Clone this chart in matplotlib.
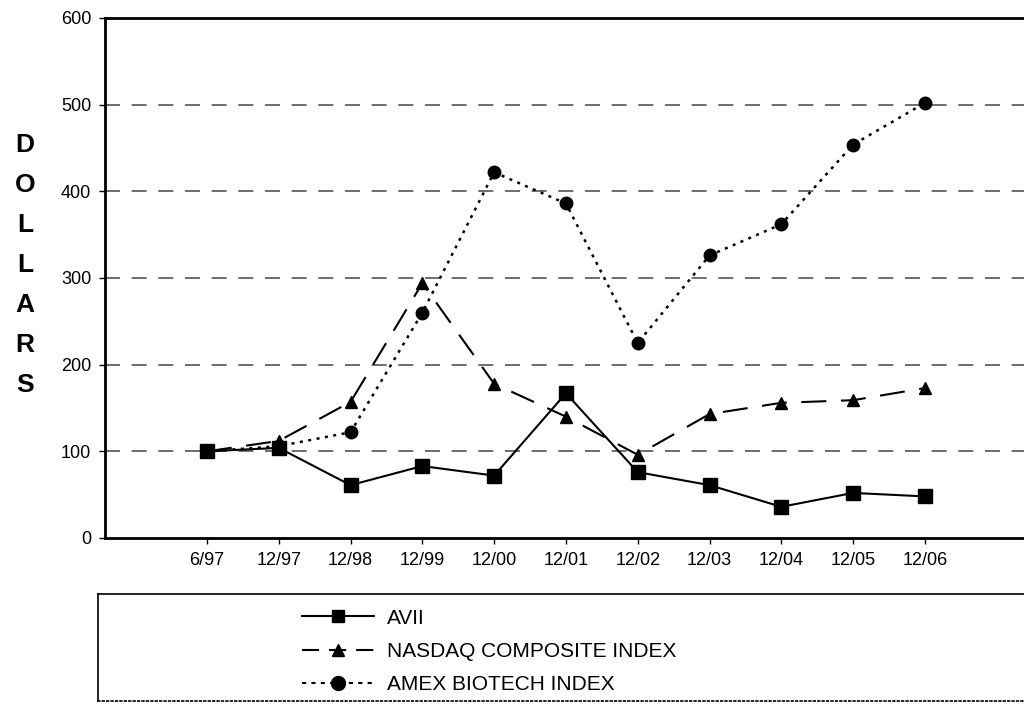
import matplotlib
matplotlib.use("Agg")
import matplotlib.pyplot as plt
from matplotlib.lines import Line2D

plt.rcParams["font.family"] = ["Liberation Sans", "DejaVu Sans"]

periods = ["6/97", "12/97", "12/98", "12/99", "12/00", "12/01",
           "12/02", "12/03", "12/04", "12/05", "12/06"]
avii = [100, 104, 61, 83, 72, 167, 76, 61, 36, 52, 48]
nasdaq = [100, 112, 157, 294, 178, 140, 96, 143, 156, 159, 173]
amex = [100, 106, 122, 260, 422, 386, 225, 326, 362, 454, 502]
yticks = [0, 100, 200, 300, 400, 500, 600]

fig = plt.figure(figsize=(10.24, 7.04), dpi=100)
ax = fig.add_axes([105 / 1024, 1 - 538 / 704, 1 - 105 / 1024, 520 / 704])

x = list(range(len(periods)))

for y in yticks[1:-1]:
    ax.axhline(y, color="#555555", lw=1.2, dashes=(9, 7), zorder=1)

ax.plot(x, avii, color="black", lw=1.5, marker="s", ms=10, zorder=3)
ax.plot(x, nasdaq, color="black", lw=1.5, dashes=(12, 7), marker="^", ms=9, zorder=3)
ax.plot(x, amex, color="black", lw=1.8, dashes=(1.2, 2.2), marker="o", ms=9, zorder=3)

ax.set_xlim(-1.42, 11.38)
ax.set_ylim(0, 600)
ax.set_xticks(x)
ax.set_xticklabels(periods, fontsize=13)
ax.set_yticks(yticks)
ax.set_yticklabels([str(v) for v in yticks], fontsize=13)
ax.tick_params(axis="both", direction="out", length=4, width=1, pad=6)
ax.spines["right"].set_visible(False)
for s in ["left", "top", "bottom"]:
    ax.spines[s].set_linewidth(2)

# vertical stacked axis label
for i, ch in enumerate("DOLLARS"):
    fig.text(25 / 1024, 1 - (145 + i * 40) / 704, ch, fontsize=19,
             fontweight="bold", ha="center", va="center")

# legend box below the plot
lax = fig.add_axes([98 / 1024, 0.004, 1 - 98 / 1024, (704 - 597) / 704])
lax.set_xticks([])
lax.set_yticks([])
lax.spines["right"].set_visible(False)
for s in ["left", "top", "bottom"]:
    lax.spines[s].set_linewidth(1.2)
lax.spines["bottom"].set_linestyle(":")

handles = [
    Line2D([], [], color="black", lw=1.5, marker="s", ms=9),
    Line2D([], [], color="black", lw=1.5, dashes=(8.2, 4.8), marker="^", ms=9),
    Line2D([], [], color="black", lw=1.5, dashes=(2, 2.5), marker="o", ms=10),
]
labels = ["AVII", "NASDAQ COMPOSITE INDEX", "AMEX BIOTECH INDEX"]
lax.legend(handles, labels, loc="upper left", bbox_to_anchor=(0.205, 1.0),
           frameon=False, fontsize=15, handlelength=3.45, labelspacing=0.68,
           handletextpad=0.62, borderaxespad=0.3)

fig.savefig("out.png", dpi=100)
